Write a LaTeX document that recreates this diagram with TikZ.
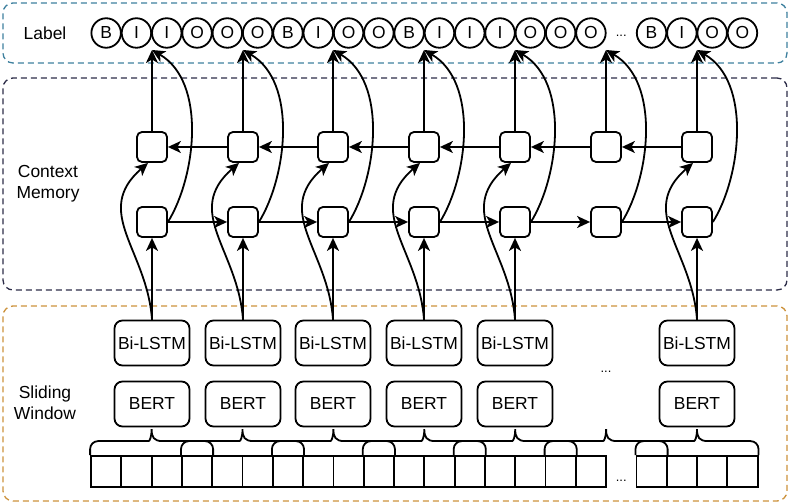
\documentclass[tikz,border=0pt]{standalone}
\usepackage{fontspec}
\setmainfont{Liberation Sans}
\usetikzlibrary{arrows.meta,positioning,calc}
\definecolor{labc}{RGB}{62,128,158}
\definecolor{memc}{RGB}{44,44,72}
\definecolor{winc}{RGB}{204,146,60}
% brace over the tokens of one window
\newcommand{\winbrace}[2]{%
  \draw (#1) [rounded corners=8bp] -- ++(0,14) -- ($(#1)!.5!(#2)+(-11,14)$)
        [sharp corners] .. controls +(9,0) and +(0,-8) .. ($(#1)!.5!(#2)+(0,26)$)
        .. controls +(0,-8) and +(-9,0) .. ($(#1)!.5!(#2)+(11,14)$)
        [rounded corners=8bp] -- ($(#2)+(0,14)$) -- (#2);}

\begin{document}
\begin{tikzpicture}[
  x=1bp, y=1bp,
  font=\fontsize{17.5}{21}\selectfont,
  line width=1.8bp,
  panel/.style={rounded corners=10bp,line width=1.3bp,dash pattern=on 6bp off 4bp,
                minimum width=784bp,inner sep=0pt},
  tag/.style={draw,circle,minimum size=29.5bp,inner sep=0pt},
  mem/.style={draw,rounded corners=5bp,minimum size=30bp,inner sep=0pt},
  blk/.style={draw,rounded corners=8bp,minimum width=75bp,minimum height=45bp,inner sep=0pt},
  tok/.style={draw,minimum width=30.3bp,minimum height=31bp,inner sep=0pt},
  flow/.style={-{Stealth[length=13bp,width=12bp,inset=3.5bp]}},
  dots/.style={font=\fontsize{13}{13}\selectfont,anchor=base,inner sep=0pt},
]
  \useasboundingbox (0,0) rectangle (789,503);

  % the three layers
  \node[panel,draw=labc,minimum height=60bp]  (labpane) at (395,470)  {};
  \node[panel,draw=memc,minimum height=212bp] (mempane) at (395,319)  {};
  \node[panel,draw=winc,minimum height=195bp] (winpane) at (395,99.5) {};

  \node (labtxt) at (45,470) {Label};
  \node[align=center] (memtxt) at (48,319) {Context\\Memory};
  \node[align=center] (wintxt) at (45,100) {Sliding\\Window};

  % tags and tokens
  \foreach \i/\t in {1/B,2/I,3/I,4/O,5/O,6/O,7/B,8/I,9/O,10/O,11/B,12/I,13/I,
                     14/I,15/O,16/O,17/O,19/B,20/I,21/O,22/O}
    \node[tag] (l\i) at ({91+(\i-0.5)*30.3},470) {\t};
  \node[dots] (ldots) at ({91+17.5*30.3},466) {...};

  \foreach \i in {1,...,17,19,20,21,22}
    \node[tok] (w\i) at ({91+(\i-0.5)*30.3},31.5) {};
  \node[dots] (wdots) at ({91+17.5*30.3},21) {...};

  % memory cells, one column per window
  \foreach \k in {1,...,7} {
    \pgfmathsetmacro{\x}{round(91+(3*\k-1)*30.3)}
    \node[mem] (t\k) at (\x,356) {};
    \node[mem] (b\k) at (\x,281) {};
    \coordinate (o\k) at (\x,453);
    \draw[flow] (t\k) -- (o\k);
    \draw[flow] (b\k.east) .. controls +(28,45) and +(55,-32) .. (o\k);
    \pgfmathtruncatemacro{\a}{3*\k-2}
    \pgfmathtruncatemacro{\b}{3*\k+1}
    \winbrace{w\a.north west}{w\b.north east}
  }
  \foreach \k [evaluate=\k as \n using int(\k+1)] in {1,...,6} {
    \draw[flow] (b\k) -- (b\n);
    \draw[flow] (t\n) -- (t\k);
  }

  % encoders
  \foreach \k in {1,2,3,4,5,7} {
    \node[blk] (lstm\k) at (t\k |- 0,160) {Bi-LSTM};
    \node[blk] (bert\k) at (t\k |- 0,99)  {BERT};
    \draw[flow] (lstm\k) -- (b\k);
    \draw[flow] (lstm\k.north) .. controls +(-5,70) and +(-56,-49) .. ([xshift=-4bp]t\k.south);
  }
  \node[dots] (mdots) at (t6 |- 0,130) {...};
\end{tikzpicture}
\end{document}
